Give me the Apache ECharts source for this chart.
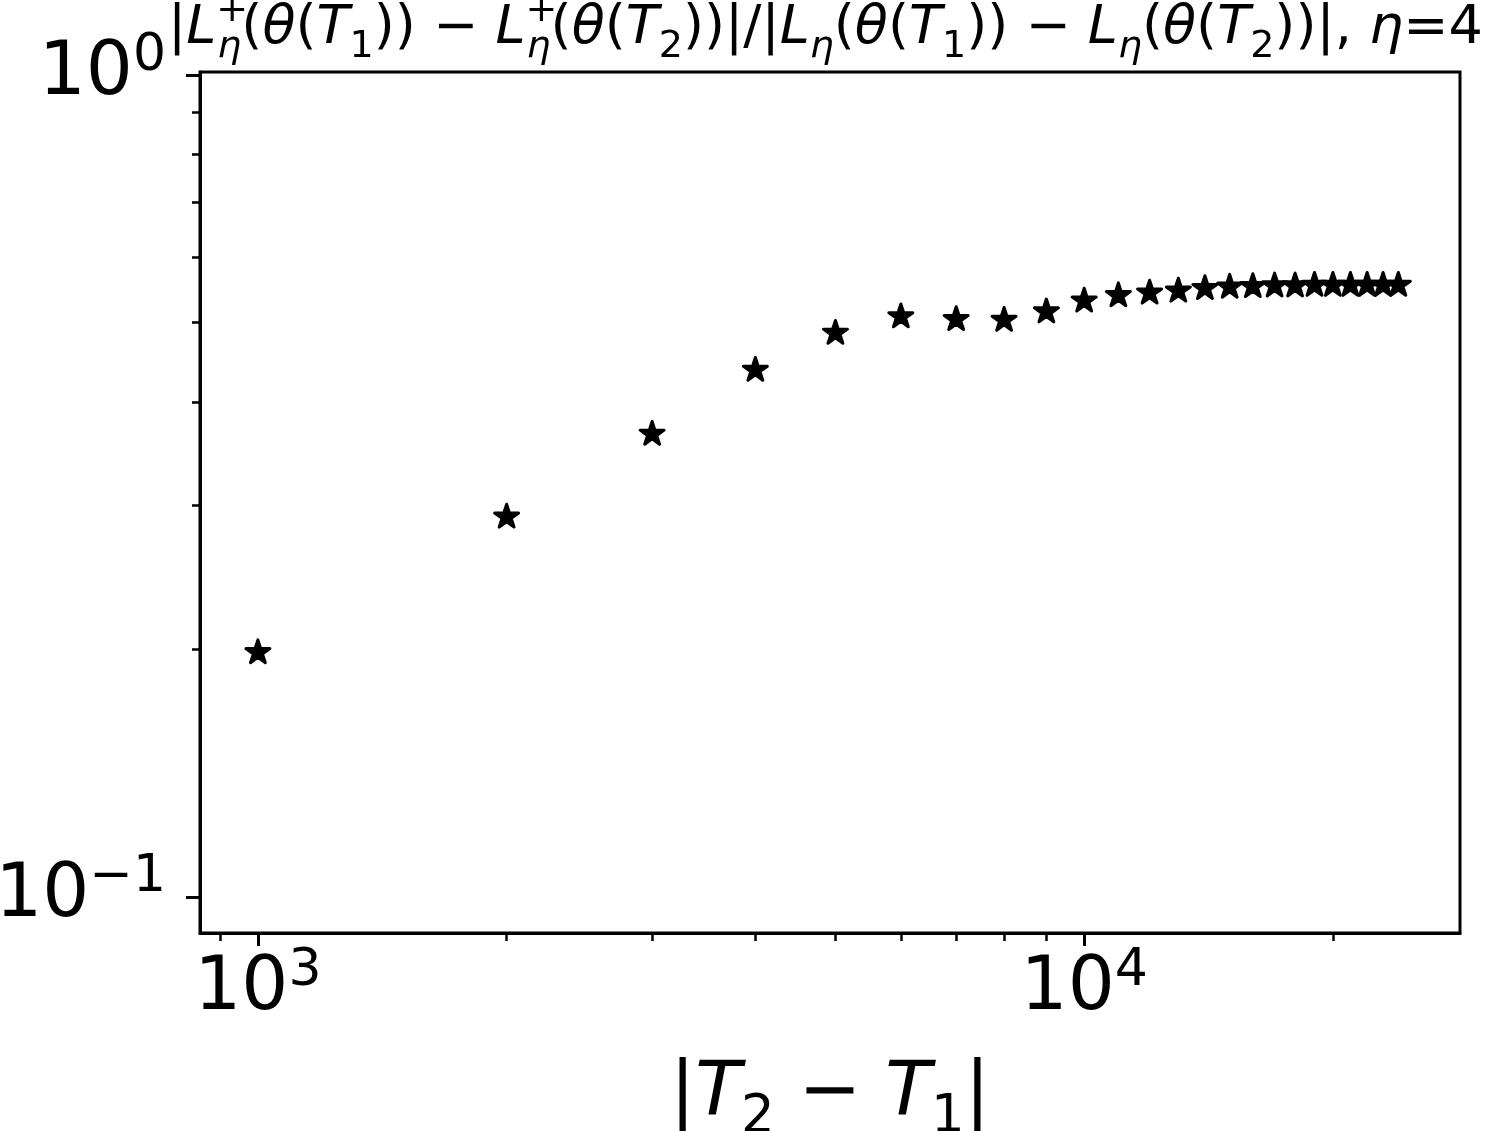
<!DOCTYPE html>
<html>
<head>
<meta charset="utf-8">
<script src="https://cdn.jsdelivr.net/npm/echarts@6/dist/echarts.min.js"></script>
<style>
  html, body { margin: 0; padding: 0; background: #fff; }
  #chart { width: 1489px; height: 1131px; }
</style>
</head>
<body>
<div id="chart"></div>
<script>
// |T2 - T1| on the x axis
const gaps = [1000, 2000, 3000, 4000, 5000, 6000, 7000, 8000, 9000, 10000,
  11000, 12000, 13000, 14000, 15000, 16000, 17000, 18000, 19000, 20000,
  21000, 22000, 23000, 24000];
// ratio of the two loss differences
const ratios = [0.199, 0.291, 0.367, 0.439, 0.487, 0.510, 0.506, 0.505, 0.517, 0.533,
  0.541, 0.545, 0.548, 0.552, 0.554, 0.555, 0.556, 0.556, 0.557, 0.557,
  0.557, 0.557, 0.557, 0.557];

// tick positions
const xMajorTicks = [1000, 10000];
const xMinorTicks = [900, 2000, 3000, 4000, 5000, 6000, 7000, 8000, 9000, 20000];
const yMajorTicks = [0.1, 1];
const yMinorTicks = [0.2, 0.3, 0.4, 0.5, 0.6, 0.7, 0.8, 0.9];

const FONT = 'DejaVu Sans';
const STAR = 'path://M0,-100L22.45,-30.9L95.1,-30.9L36.33,11.8L58.8,80.9L0,38.2L-58.8,80.9L-36.33,11.8L-95.1,-30.9L-22.45,-30.9Z';

// "10^k" label as rich text
function powLabel(v) {
  const e = Math.round(Math.log10(v));
  return '{b|10}{s|' + String(e).replace('-', '\u2212') + '}';
}
const powRich = {
  b: { fontFamily: FONT, fontSize: 74, color: '#000', lineHeight: 90 },
  s: { fontFamily: FONT, fontSize: 52, color: '#000', lineHeight: 48, verticalAlign: 'top' }
};

// mathtext-ish title pieces
const titleText =
  '{n||}{i|L}{sp|+}{sbi|η}{n|(}{i|θ}{n|(}{i|T}{sb|1}{n|)) − }' +
  '{i|L}{sp|+}{sbi|η}{n|(}{i|θ}{n|(}{i|T}{sb|2}{n|))|/|}' +
  '{i|L}{sbi|η}{n|(}{i|θ}{n|(}{i|T}{sb|1}{n|)) − }' +
  '{i|L}{sbi|η}{n|(}{i|θ}{n|(}{i|T}{sb|2}{n|))|, }{i|η}{n|=4}';

const base = { fontFamily: FONT, color: '#000', fontWeight: 'normal' };
const titleRich = {
  n: { ...base, fontSize: 54, lineHeight: 74 },
  i: { ...base, fontSize: 54, fontStyle: 'italic', lineHeight: 74 },
  sp: { ...base, fontSize: 38, lineHeight: 38, verticalAlign: 'top', width: 1 },
  sb: { ...base, fontSize: 38, lineHeight: 52, verticalAlign: 'bottom' },
  sbi: { ...base, fontSize: 38, fontStyle: 'italic', lineHeight: 56, verticalAlign: 'bottom' }
};

const nameRich = {
  n: { ...base, fontSize: 75, lineHeight: 100 },
  i: { ...base, fontSize: 75, fontStyle: 'italic', lineHeight: 100 },
  sb: { ...base, fontSize: 53, lineHeight: 70, verticalAlign: 'bottom' }
};

const chart = echarts.init(document.getElementById('chart'));

const xMin = 851, xMax = 28500, yMin = 0.0904, yMax = 1.0084;

const option = {
  animation: false,
  backgroundColor: '#fff',
  title: {
    text: titleText,
    left: 168,
    top: -8,
    padding: 0,
    textStyle: { fontWeight: 'normal', rich: titleRich }
  },
  grid: {
    left: 200, right: 29, top: 72, bottom: 198,
    outerBoundsMode: 'none', containLabel: false,
    show: true, borderColor: '#000', borderWidth: 3, backgroundColor: 'transparent'
  },
  xAxis: [
    {
      type: 'log', logBase: 10, min: xMin, max: xMax,
      name: '{n||}{i|T}{sb|2}{n| − }{i|T}{sb|1}{n||}',
      nameLocation: 'middle', nameGap: 112,
      nameTextStyle: { rich: nameRich },
      axisLine: { show: true, lineStyle: { color: '#000', width: 3 } },
      axisTick: { show: true, customValues: xMajorTicks, length: 13, lineStyle: { color: '#000', width: 3 } },
      axisLabel: { show: true, customValues: xMajorTicks, margin: 12, formatter: powLabel, rich: powRich },
      splitLine: { show: false }
    },
    {
      type: 'log', logBase: 10, min: xMin, max: xMax, position: 'bottom',
      axisLine: { show: false },
      axisTick: { show: true, customValues: xMinorTicks, length: 8, lineStyle: { color: '#000', width: 2.5 } },
      axisLabel: { show: false },
      splitLine: { show: false }
    }
  ],
  yAxis: [
    {
      type: 'log', logBase: 10, min: yMin, max: yMax,
      axisLine: { show: true, lineStyle: { color: '#000', width: 3 } },
      axisTick: { show: true, customValues: yMajorTicks, length: 14, lineStyle: { color: '#000', width: 3 } },
      axisLabel: { show: true, customValues: yMajorTicks, margin: 34, formatter: powLabel, rich: powRich },
      splitLine: { show: false }
    },
    {
      type: 'log', logBase: 10, min: yMin, max: yMax, position: 'left',
      axisLine: { show: false },
      axisTick: { show: true, customValues: yMinorTicks, length: 8, lineStyle: { color: '#000', width: 2.5 } },
      axisLabel: { show: false },
      splitLine: { show: false }
    }
  ],
  series: [
    {
      type: 'scatter',
      xAxisIndex: 0, yAxisIndex: 0,
      data: gaps.map((g, k) => [g, ratios[k]]),
      symbol: STAR,
      symbolKeepAspect: true,
      symbolSize: 24,
      itemStyle: { color: '#000', opacity: 1, borderColor: '#000', borderWidth: 3, borderJoin: 'round' }
    }
  ]
};

chart.setOption(option);
</script>
</body>
</html>
